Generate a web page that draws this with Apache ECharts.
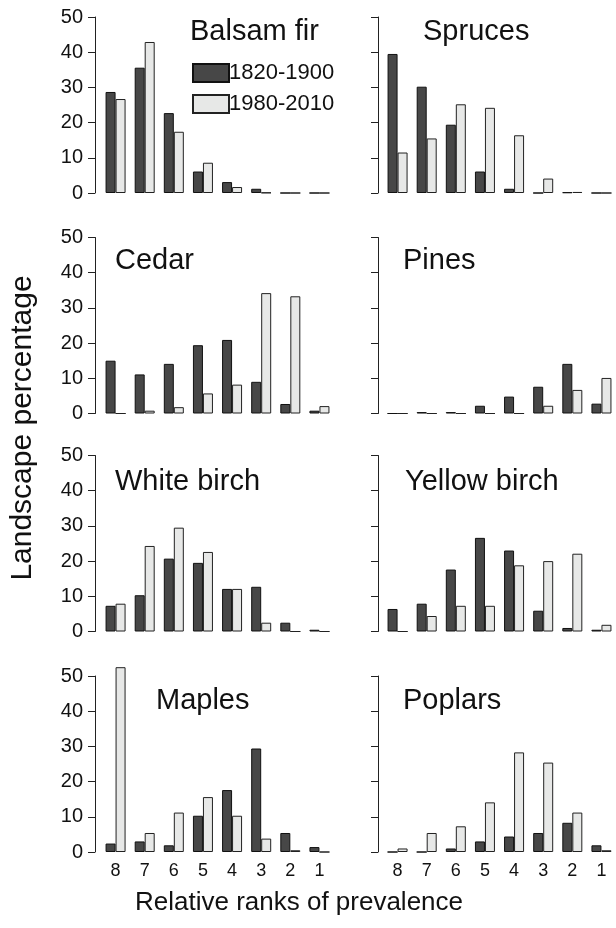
<!DOCTYPE html>
<html>
<head>
<meta charset="utf-8">
<script src="https://cdn.jsdelivr.net/npm/echarts@6/dist/echarts.min.js"></script>
<style>
html,body{margin:0;padding:0;background:#fff;}
#chart{width:616px;height:928px;}
</style>
</head>
<body>
<div id="chart"></div>
<script>
// ---- data ----
const ranks = ['8','7','6','5','4','3','2','1'];
const periods = ['1820-1900','1980-2010'];
const panelNames = ['Balsam fir','Spruces','Cedar','Pines','White birch','Yellow birch','Maples','Poplars'];
const yTicks = [0,10,20,30,40,50];

const balsamFir1820 = [28.7, 35.6, 22.7, 6.1, 3.1, 1.2, 0, 0];
const balsamFir1980 = [26.7, 42.9, 17.4, 8.6, 1.7, 0.1, 0, 0];
const spruces1820 = [39.5, 30.2, 19.4, 6.1, 1.2, 0, 0.2, 0];
const spruces1980 = [11.5, 15.5, 25.2, 24.2, 16.4, 4.1, 0.3, 0];
const cedar1820 = [15.0, 11.1, 14.1, 19.4, 20.9, 9.0, 2.7, 0.8];
const cedar1980 = [0, 0.8, 1.8, 5.7, 8.2, 34.2, 33.3, 2.1];
const pines1820 = [0, 0.4, 0.4, 2.2, 4.8, 7.6, 14.1, 2.8];
const pines1980 = [0, 0, 0, 0, 0, 2.2, 6.7, 10.1];
const whiteBirch1820 = [7.3, 10.3, 20.7, 19.5, 12.1, 12.7, 2.5, 0.5];
const whiteBirch1980 = [7.9, 24.3, 29.5, 22.6, 12.1, 2.5, 0, 0];
const yellowBirch1820 = [6.4, 7.9, 17.6, 26.6, 23.0, 5.9, 1.0, 0.5];
const yellowBirch1980 = [0, 4.4, 7.3, 7.3, 18.8, 20.0, 22.1, 1.9];
const maples1820 = [2.4, 3.0, 1.9, 10.3, 17.6, 29.4, 5.4, 1.4];
const maples1980 = [52.5, 5.4, 11.2, 15.6, 10.3, 3.8, 0.5, 0];
const poplars1820 = [0, 0, 1.0, 3.0, 4.4, 5.4, 8.3, 1.9];
const poplars1980 = [1.0, 5.4, 7.3, 14.1, 28.3, 25.4, 11.2, 0.5];

const seriesOld = [balsamFir1820, spruces1820, cedar1820, pines1820, whiteBirch1820, yellowBirch1820, maples1820, poplars1820];
const seriesNew = [balsamFir1980, spruces1980, cedar1980, pines1980, whiteBirch1980, yellowBirch1980, maples1980, poplars1980];

// ---- layout ----
const FONT = 'Liberation Sans, Arial, Helvetica, sans-serif';
const gridTops = [17, 237.5, 455.5, 676];
const gridLefts = [101, 383];
const gridW = 233, gridH = 176;
const axisOffsets = [6, 5];
const titlePos = [[190, 17], [423, 17], [115, 246], [403, 246], [115, 467], [405, 467], [156, 686], [403, 686]];
const darkColor = '#474747', lightColor = '#e7e8e7';

const grids = [], xAxes = [], yAxes = [], series = [], titles = [];
for (let i = 0; i < 8; i++) {
  const row = Math.floor(i / 2), col = i % 2;
  grids.push({left: gridLefts[col], top: gridTops[row], width: gridW, height: gridH, containLabel: false});
  xAxes.push({
    type: 'category', gridIndex: i, data: ranks,
    axisLine: {show: false}, axisTick: {show: false},
    axisLabel: {show: row === 3, fontFamily: FONT, fontSize: 18, color: '#111', margin: 10}
  });
  yAxes.push({
    type: 'value', gridIndex: i, min: yTicks[0], max: yTicks[yTicks.length - 1], interval: 10,
    offset: axisOffsets[col],
    splitLine: {show: false},
    axisLine: {show: true, lineStyle: {color: '#222', width: 1}},
    axisTick: {show: true, length: 7, lineStyle: {color: '#222', width: 1}},
    axisLabel: {show: col === 0, fontFamily: FONT, fontSize: 20, color: '#111', margin: 12}
  });
  series.push({
    name: periods[0], type: 'bar', xAxisIndex: i, yAxisIndex: i, data: seriesOld[i],
    barWidth: 10, barGap: '0%', clip: false, animation: false,
    itemStyle: {color: darkColor, borderColor: '#111', borderWidth: 1}
  });
  series.push({
    name: periods[1], type: 'bar', xAxisIndex: i, yAxisIndex: i, data: seriesNew[i],
    barWidth: 10, barGap: '0%', clip: false, animation: false,
    itemStyle: {color: lightColor, borderColor: '#222', borderWidth: 1}
  });
  titles.push({
    text: panelNames[i], left: titlePos[i][0], top: titlePos[i][1], padding: 0,
    textStyle: {fontFamily: FONT, fontSize: 29, fontWeight: 'normal', color: '#111'}
  });
}

const chart = echarts.init(document.getElementById('chart'), null, {renderer: 'canvas'});
chart.setOption({
  animation: false,
  backgroundColor: '#fff',
  title: titles,
  legend: {
    data: periods.map(function (p) { return {name: p, icon: 'rect'}; }),
    orient: 'vertical', left: 192, top: 62,
    itemWidth: 36, itemHeight: 18, itemGap: 9, padding: 0,
    textStyle: {fontFamily: FONT, fontSize: 22, color: '#111', padding: [0, 0, 0, -5]},
    selectedMode: false
  },
  grid: grids,
  xAxis: xAxes,
  yAxis: yAxes,
  series: series,
  graphic: [
    {type: 'text', x: 23, y: 428, rotation: Math.PI / 2,
     style: {text: 'Landscape percentage', font: '30px ' + FONT, fill: '#111', align: 'center', verticalAlign: 'middle'}},
    {type: 'text', x: 299, y: 903,
     style: {text: 'Relative ranks of prevalence', font: '26px ' + FONT, fill: '#111', align: 'center', verticalAlign: 'middle'}}
  ]
});
</script>
</body>
</html>
